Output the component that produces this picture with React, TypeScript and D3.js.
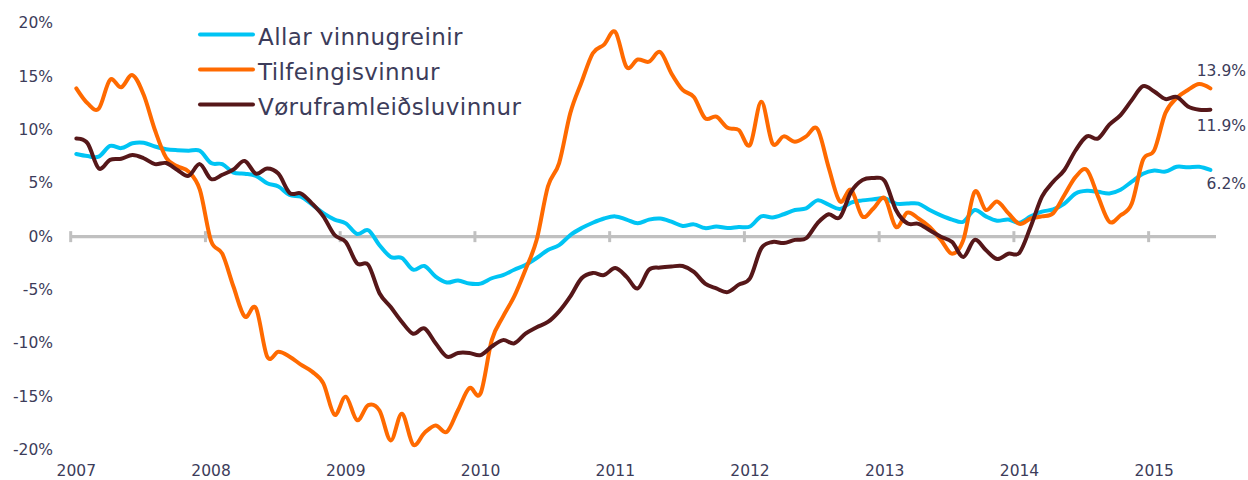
import React from "react";
import * as d3 from "d3";

const yearLabels = ["2007", "2008", "2009", "2010", "2011", "2012", "2013", "2014", "2015"];
const yTicks = [20, 15, 10, 5, 0, -5, -10, -15, -20];
const seriesNames = ["Allar vinnugreinir", "Tilfeingisvinnur", "Vøruframleiðsluvinnur"];
const seriesColors = ["#00c4f4", "#ff6a00", "#561719"];

// monthly values Jan 2007 - Jun 2015 (102 months)
const allar = [
  7.75, 7.55, 7.5, 8.5, 8.3, 8.75, 8.8, 8.45, 8.2, 8.1, 8.05, 8.05,
  6.9, 6.8, 6.0, 5.9, 5.7, 5.0, 4.7, 3.9, 3.75, 3.0, 2.2, 1.6,
  1.25, 0.25, 0.6, -0.8, -1.9, -2.0, -3.1, -2.75, -3.75, -4.3, -4.1, -4.4,
  -4.4, -3.9, -3.6, -3.1, -2.65, -2.0, -1.25, -0.8, 0.15, 0.8, 1.3, 1.7,
  1.9, 1.6, 1.25, 1.6, 1.7, 1.4, 1.0, 1.15, 0.8, 0.95, 0.8, 0.9,
  0.95, 1.9, 1.8, 2.1, 2.5, 2.65, 3.4, 3.0, 2.6, 3.2, 3.4, 3.5,
  3.6, 3.1, 3.1, 3.1, 2.5, 2.0, 1.6, 1.4, 2.5, 1.9, 1.5, 1.6,
  1.3, 1.9, 2.35, 2.55, 3.1, 4.05, 4.3, 4.2, 4.05, 4.4, 5.15, 5.9,
  6.2, 6.1, 6.55, 6.5, 6.55, 6.25,
];
const tilfeingis = [
  13.9, 12.5, 12.0, 14.7, 14.0, 15.15, 13.3, 10.0, 7.4, 6.6, 6.1, 4.4,
  -0.4, -1.6, -4.7, -7.5, -6.7, -11.25, -10.8, -11.25, -12.0, -12.65, -13.75, -16.7,
  -15.0, -17.2, -15.8, -16.3, -19.1, -16.6, -19.5, -18.4, -17.7, -18.3, -16.25, -14.2,
  -14.7, -9.7, -7.5, -5.6, -3.1, -0.3, 4.7, 6.9, 11.6, 14.5, 17.2, 18.0,
  19.2, 15.9, 16.6, 16.4, 17.3, 15.3, 13.75, 13.1, 11.1, 11.25, 10.2, 10.0,
  8.6, 12.65, 8.75, 9.4, 8.9, 9.4, 10.1, 6.5, 3.3, 4.4, 1.9, 2.65,
  3.6, 0.9, 2.25, 1.7, 0.9, -0.3, -1.6, -0.3, 4.2, 2.5, 3.3, 2.2,
  1.2, 1.7, 1.9, 2.2, 3.9, 5.6, 6.25, 3.75, 1.4, 2.0, 3.1, 7.2,
  8.1, 11.6, 13.0, 13.75, 14.3, 13.9,
];
const voru = [
  9.2, 8.75, 6.4, 7.2, 7.3, 7.65, 7.35, 6.8, 6.9, 6.25, 5.7, 6.8,
  5.4, 5.8, 6.3, 7.1, 5.9, 6.4, 5.9, 4.1, 4.05, 3.1, 1.9, 0.15,
  -0.5, -2.5, -2.65, -5.3, -6.6, -8.0, -9.1, -8.6, -10.0, -11.25, -10.9, -10.9,
  -11.1, -10.3, -9.7, -10.0, -9.1, -8.5, -8.0, -7.0, -5.6, -3.9, -3.4, -3.6,
  -2.95, -3.75, -4.85, -3.1, -2.9, -2.8, -2.75, -3.3, -4.4, -4.85, -5.2, -4.5,
  -3.9, -1.1, -0.5, -0.6, -0.3, -0.15, 1.25, 2.1, 1.8, 4.2, 5.3, 5.5,
  5.2, 2.5, 1.25, 1.2, 0.6, 0.0, -0.5, -1.9, -0.3, -1.25, -2.1, -1.6,
  -1.5, 0.95, 3.75, 5.15, 6.25, 8.1, 9.4, 9.2, 10.5, 11.4, 12.8, 14.1,
  13.6, 12.9, 13.1, 12.2, 11.9, 11.9,
];
const endLabels = ["6.2%", "13.9%", "11.9%"];

const W = 1248;
const H = 480;
const textColor = "#3c3c5a";
const font = "'DejaVu Sans', Verdana, sans-serif";

export default function App() {
  const series = [allar, tilfeingis, voru];
  const nMonths = allar.length;
  const x = d3.scaleLinear().domain([0, nMonths]).range([70.7, 1216]);
  const y = d3.scaleLinear().domain([-20, 20]).range([450, 23.3]);
  const line = d3
    .line<number>()
    .x((_, i) => x(i + 0.5))
    .y((d) => y(d))
    .curve(d3.curveCardinal);

  const tickIdx = yearLabels.map((_, k) => k * 12);
  const endY = [y(allar[nMonths - 1]) + 14, y(tilfeingis[nMonths - 1]) - 17, y(voru[nMonths - 1]) + 16];

  return (
    <svg
      width={W}
      height={H}
      style={{ position: "absolute", left: 0, top: 0, background: "#fff" }}
      fontFamily={font}
    >
      {/* y tick labels */}
      {yTicks.map((t) => (
        <text
          key={t}
          x={53}
          y={y(t)}
          textAnchor="end"
          dominantBaseline="central"
          fontSize={15.5}
          fill={textColor}
        >
          {t + "%"}
        </text>
      ))}
      {/* zero axis */}
      <line x1={x(0)} x2={x(nMonths)} y1={y(0)} y2={y(0)} stroke="#c0c0c0" strokeWidth={3.2} />
      {tickIdx.map((m) => (
        <line
          key={m}
          x1={x(m)}
          x2={x(m)}
          y1={y(0) - 5.5}
          y2={y(0) + 5.5}
          stroke="#c0c0c0"
          strokeWidth={3}
        />
      ))}
      {/* year labels */}
      {yearLabels.map((lab, k) => (
        <text
          key={lab}
          x={x(k * 12 + 0.5)}
          y={471}
          textAnchor="middle"
          dominantBaseline="central"
          fontSize={15.5}
          fill={textColor}
        >
          {lab}
        </text>
      ))}
      {/* series */}
      {series.map((s, k) => (
        <path
          key={k}
          d={line(s) || ""}
          fill="none"
          stroke={seriesColors[k]}
          strokeWidth={4}
          strokeLinejoin="round"
          strokeLinecap="round"
        />
      ))}
      {/* end labels */}
      {endLabels.map((lab, k) => (
        <text
          key={lab}
          x={1246}
          y={endY[k]}
          textAnchor="end"
          dominantBaseline="central"
          fontSize={15.5}
          fill={textColor}
        >
          {lab}
        </text>
      ))}
      {/* legend */}
      {seriesNames.map((name, k) => (
        <g key={name} transform={`translate(200, ${34.5 + k * 35})`}>
          <line x1={0} x2={53} y1={0} y2={0} stroke={seriesColors[k]} strokeWidth={4} strokeLinecap="round" />
          <text
            x={58}
            y={2}
            dominantBaseline="central"
            fontSize={23}
            letterSpacing={0.4}
            fill={textColor}
          >
            {name}
          </text>
        </g>
      ))}
    </svg>
  );
}
